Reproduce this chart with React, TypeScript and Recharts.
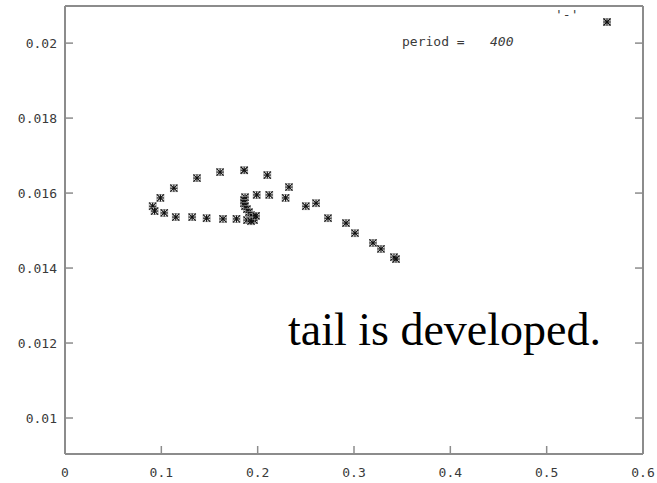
import { Scatter, ScatterChart, XAxis, YAxis } from "recharts";

// trajectory samples at period = 400
const xs = [
  0.161, 0.186, 0.21, 0.137, 0.113, 0.099, 0.091, 0.093, 0.103, 0.115, 0.132, 0.147, 0.164, 0.178,
  0.189, 0.1869, 0.1858, 0.1858, 0.1869, 0.1889, 0.191, 0.1931, 0.1952, 0.1962, 0.1931, 0.1983,
  0.199, 0.212, 0.2325, 0.229, 0.25, 0.2606, 0.273, 0.2917, 0.301, 0.3197, 0.328, 0.3415, 0.3436,
];
const ys = [
  0.01656, 0.01661, 0.01648, 0.0164, 0.01613, 0.01587, 0.01565, 0.01552, 0.01547, 0.01536, 0.01536,
  0.01533, 0.01531, 0.01531, 0.01528, 0.01589, 0.01581, 0.01573, 0.01565, 0.01557, 0.01549,
  0.01541, 0.01536, 0.01528, 0.01525, 0.01539, 0.01595, 0.01595, 0.01616, 0.01587, 0.01565,
  0.01573, 0.01533, 0.0152, 0.01493, 0.01467, 0.01451, 0.01429, 0.01424,
];

const xTicks = [0, 0.1, 0.2, 0.3, 0.4, 0.5, 0.6];
const yTicks = [0.01, 0.012, 0.014, 0.016, 0.018, 0.02];
const xDomain = [0, 0.6];
const yDomain = [0.00904, 0.02099];

const points = xs.map((x, i) => ({ x, y: ys[i] }));

const FRAME = "#8c8c8c";
const LABEL = "#3a3a3a";
const MONO = "'DejaVu Sans Mono', monospace";

// gnuplot-style asterisk point
function Star({ cx, cy }: { cx?: number; cy?: number }) {
  if (cx == null || cy == null) return null;
  const r = 3.5;
  return (
    <g stroke="#111" strokeWidth={1.2}>
      <rect x={cx - r} y={cy - r} width={2 * r} height={2 * r} fill="none" stroke="#9a9a9a" strokeWidth={0.8} />
      <line x1={cx - r} y1={cy - r} x2={cx + r} y2={cy + r} />
      <line x1={cx - r} y1={cy + r} x2={cx + r} y2={cy - r} />
      <line x1={cx - r} y1={cy} x2={cx + r} y2={cy} />
      <line x1={cx} y1={cy - r} x2={cx} y2={cy + r} />
    </g>
  );
}

// ticks point into the plot, labels sit outside
const leftTick = (p: any) => (
  <g>
    <line x1={p.x} y1={p.y} x2={p.x + 8} y2={p.y} stroke={FRAME} strokeWidth={1.5} />
    <text x={p.x - 8} y={p.y} dy="0.35em" textAnchor="end" fontFamily={MONO} fontSize={13} fill={LABEL}>
      {String(p.payload.value)}
    </text>
  </g>
);
const bottomTick = (p: any) => (
  <g>
    <line x1={p.x} y1={p.y} x2={p.x} y2={p.y - 8} stroke={FRAME} strokeWidth={1.5} />
    <text x={p.x} y={p.y + 23} textAnchor="middle" fontFamily={MONO} fontSize={13} fill={LABEL}>
      {String(p.payload.value)}
    </text>
  </g>
);
const rightTick = (p: any) => (
  <line x1={p.x} y1={p.y} x2={p.x - 8} y2={p.y} stroke={FRAME} strokeWidth={1.5} />
);
const topTick = (p: any) => (
  <line x1={p.x} y1={p.y} x2={p.x} y2={p.y + 8} stroke={FRAME} strokeWidth={1.5} />
);

export default function App() {
  return (
    <div style={{ position: "absolute", left: 0, top: 0, width: 657, height: 483, background: "#fff" }}>
      <ScatterChart width={657} height={483} margin={{ top: 0, right: 0, bottom: 0, left: 0 }}>
        <XAxis
          xAxisId="bottom"
          type="number"
          dataKey="x"
          domain={xDomain}
          ticks={xTicks}
          interval={0}
          height={29}
          tickSize={0}
          tickMargin={0}
          tickLine={false}
          tick={bottomTick}
          axisLine={{ stroke: FRAME, strokeWidth: 2 }}
          allowDataOverflow
        />
        <XAxis
          xAxisId="top"
          orientation="top"
          type="number"
          domain={xDomain}
          ticks={xTicks}
          interval={0}
          height={6}
          tickSize={0}
          tickMargin={0}
          tickLine={false}
          tick={topTick}
          axisLine={{ stroke: FRAME, strokeWidth: 2 }}
          allowDataOverflow
        />
        <YAxis
          yAxisId="left"
          type="number"
          dataKey="y"
          domain={yDomain}
          ticks={yTicks}
          interval={0}
          width={65}
          tickSize={0}
          tickMargin={0}
          tickLine={false}
          tick={leftTick}
          axisLine={{ stroke: FRAME, strokeWidth: 2 }}
          allowDataOverflow
        />
        <YAxis
          yAxisId="right"
          orientation="right"
          type="number"
          domain={yDomain}
          ticks={yTicks}
          interval={0}
          width={14}
          tickSize={0}
          tickMargin={0}
          tickLine={false}
          tick={rightTick}
          axisLine={{ stroke: FRAME, strokeWidth: 2 }}
          allowDataOverflow
        />
        <Scatter
          xAxisId="bottom"
          yAxisId="left"
          data={points}
          shape={<Star />}
          isAnimationActive={false}
        />
      </ScatterChart>
      <svg
        width={657}
        height={483}
        style={{ position: "absolute", left: 0, top: 0, pointerEvents: "none" }}
      >
        <text x={555} y={19} fontFamily={MONO} fontSize={13} fill={LABEL}>
          '-'
        </text>
        <Star cx={607} cy={22} />
        <text x={402} y={46} fontFamily={MONO} fontSize={13} fill={LABEL}>
          period =
        </text>
        <text x={490} y={46} fontFamily={MONO} fontSize={13} fontStyle="italic" fill={LABEL}>
          400
        </text>
        <text x={288} y={345} fontFamily="'Liberation Serif', serif" fontSize={46} fill="#000">
          tail is developed.
        </text>
      </svg>
    </div>
  );
}
